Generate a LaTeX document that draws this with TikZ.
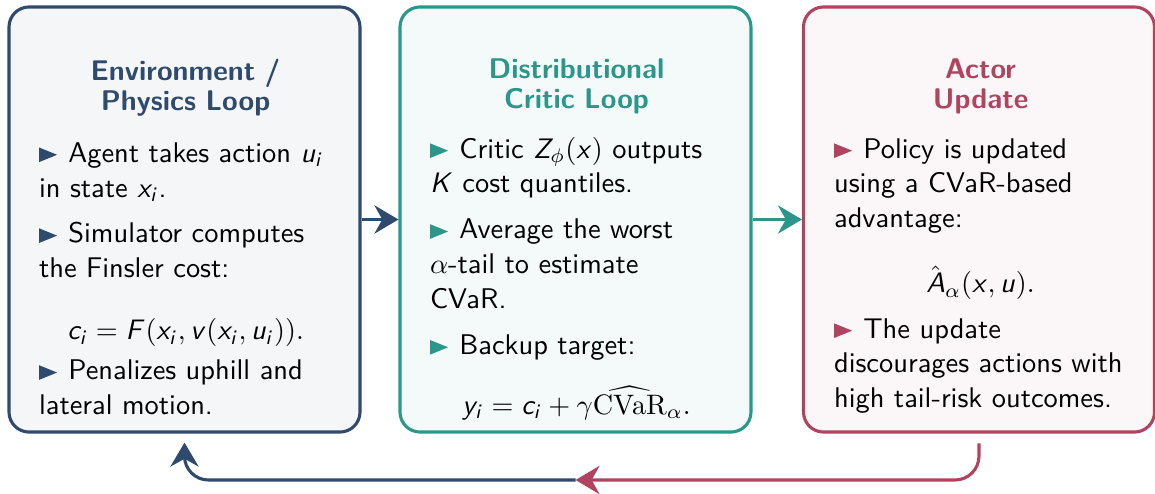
\documentclass[tikz,border=0pt]{standalone}
\usepackage{amsmath}
\usetikzlibrary{arrows.meta}
\renewcommand\familydefault{\sfdefault}
% sans slanted letters in math, greek and \mathrm stay serif
\DeclareSymbolFont{sfletters}{OT1}{cmss}{m}{sl}
\def\sfmathletters#1{\ifx\relax#1\else
  \DeclareMathSymbol{#1}{\mathalpha}{sfletters}{`#1}%
  \expandafter\sfmathletters\fi}
\sfmathletters abcdefghijklmnopqrstuvwxyzABCDEFGHIJKLMNOPQRSTUVWXYZ\relax
\definecolor{envc}{HTML}{2E4B6D}
\definecolor{critc}{HTML}{2A978A}
\definecolor{actc}{HTML}{B0435F}
\newlength\cw \setlength\cw{104pt}
\newcommand\tri[1]{\tikz[baseline=0pt]\fill[#1] (0pt,0pt)--(6.4pt,2.6pt)--(0pt,5.2pt)--cycle;\hspace{4pt}}
\newcommand\ttl[2]{\makebox[\cw][c]{\bfseries\color{#1}#2}}
\newcommand\eqline[1]{\makebox[\cw][c]{$#1$}}
\tikzset{>=Stealth,
  panel/.style={draw=#1,fill=#1!5,line width=1.1pt,rounded corners=7.1pt,
    minimum width=124.6pt,minimum height=150.9pt,inner sep=0pt},
  bodytext/.style={anchor=base west,text width=130pt,align=left,inner sep=0pt,
    font=\fontsize{10.1}{12.4}\selectfont},
  flow/.style={draw=#1,line width=1.1pt,-{Stealth[length=8.5pt,width=10pt]}}}
\begin{document}
\begin{tikzpicture}[x=.355pt,y=-.355pt]
\useasboundingbox (0,0) rectangle (1155,493);
\node[panel=envc] (env) at (184.5,219.5) {};
\node[panel=critc] (critic) at (575.5,219.5) {};
\node[panel=actc] (actor) at (979,219.5) {};
% box contents
\node[bodytext] (envtext) at (38.5,80) {\ttl{envc}{Environment /}\\[-1.75pt]
  \ttl{envc}{Physics Loop}\\[6.1pt]
  \tri{envc}Agent takes action $u_i$\\ in state $x_i$.\\[3.9pt]
  \tri{envc}Simulator computes\\ the Finsler cost:\\[9.6pt]
  \eqline{c_i = F(x_i, v(x_i, u_i)).}\\[1.8pt]
  \tri{envc}Penalizes uphill and\\ lateral motion.};
\node[bodytext] (crittext) at (429.5,78) {\ttl{critc}{Distributional}\\[-1.75pt]
  \ttl{critc}{Critic Loop}\\[5.35pt]
  \tri{critc}Critic $Z_\phi(x)$ outputs\\ $K$ cost quantiles.\\[3.9pt]
  \tri{critc}Average the worst\\ $\alpha$-tail to estimate\\ CVaR.\\[3.9pt]
  \tri{critc}Backup target:\\[8.9pt]
  \eqline{y_i = c_i + \gamma\widehat{\mathrm{CVaR}}_\alpha.}};
\node[bodytext] (acttext) at (833.5,78) {\ttl{actc}{Actor}\\[-1.75pt]
  \ttl{actc}{Update}\\[5.35pt]
  \tri{actc}Policy is updated\\ using a CVaR-based\\ advantage:\\[10.7pt]
  \eqline{\hat{A}_\alpha(x,u).}\\[3.6pt]
  \tri{actc}The update\\ discourages actions with\\ high tail-risk outcomes.};
% loop arrows
\coordinate (back) at (575.5,480);
\draw[flow=envc] (env.east) -- (critic.west);
\draw[flow=critc] (critic.east) -- (actor.west);
\draw[flow=actc,rounded corners=8.5pt] ([yshift=-3.5pt]actor.south) |- (back);
\draw[flow=envc,rounded corners=8.5pt] (back) -| ([yshift=-3.2pt]env.south);
\end{tikzpicture}
\end{document}
